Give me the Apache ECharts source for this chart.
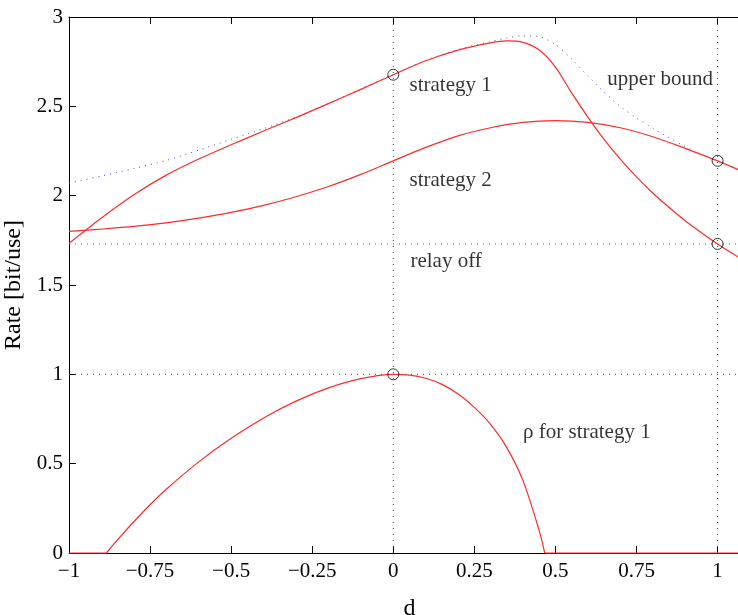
<!DOCTYPE html>
<html>
<head>
<meta charset="utf-8">
<script src="https://cdn.jsdelivr.net/npm/echarts@6/dist/echarts.min.js"></script>
<style>
html, body { margin: 0; padding: 0; background: #fff; }
#chart { width: 738px; height: 615px; }
</style>
</head>
<body>
<div id="chart"></div>
<script>
// strategy 1 rate
var s1X = [-1, -0.9, -0.8, -0.7, -0.6, -0.5, -0.4, -0.3, -0.2, -0.1, 0, 0.1, 0.2, 0.3, 0.35, 0.4, 0.45,
  0.5, 0.55, 0.6, 0.65, 0.7, 0.75, 0.8, 0.85, 0.9, 0.95, 1, 1.065];
var s1Y = [1.733, 1.875, 2.005, 2.115, 2.205, 2.285, 2.362, 2.437, 2.515, 2.595, 2.677, 2.755, 2.815, 2.855, 2.866, 2.858, 2.815,
  2.72, 2.575, 2.44, 2.315, 2.205, 2.105, 2.015, 1.935, 1.86, 1.793, 1.73, 1.655];

// strategy 2 rate
var s2X = [-1, -0.9, -0.8, -0.7, -0.6, -0.5, -0.4, -0.3, -0.2, -0.1, 0, 0.1, 0.2, 0.3, 0.4, 0.5, 0.6, 0.7, 0.8, 0.9, 1, 1.065];
var s2Y = [1.80, 1.813, 1.828, 1.848, 1.874, 1.906, 1.946, 1.994, 2.051, 2.119, 2.195, 2.27, 2.335, 2.38, 2.41, 2.42, 2.41, 2.38, 2.33, 2.265, 2.195, 2.145];

// upper bound
var ubX = [-1, -0.9, -0.8, -0.7, -0.6, -0.5, -0.4, -0.3, -0.2, -0.1, 0, 0.1, 0.2, 0.3, 0.35, 0.4, 0.45,
  0.5, 0.55, 0.6, 0.65, 0.7, 0.75, 0.8, 0.85, 0.9, 0.93];
var ubY = [2.07, 2.11, 2.152, 2.197, 2.255, 2.315, 2.375, 2.44, 2.517, 2.597, 2.679, 2.757, 2.818, 2.862, 2.882, 2.895, 2.89,
  2.845, 2.765, 2.67, 2.58, 2.50, 2.435, 2.378, 2.325, 2.275, 2.248];

// rho for strategy 1
var rhoX = [-0.885, -0.85, -0.8, -0.75, -0.7, -0.6, -0.5, -0.4, -0.3, -0.2, -0.1, 0, 0.05, 0.1, 0.15, 0.2, 0.25, 0.3, 0.35, 0.4, 0.45, 0.467];
var rhoY = [0, 0.075, 0.175, 0.27, 0.357, 0.51, 0.642, 0.756, 0.85, 0.924, 0.976, 1, 0.996, 0.978, 0.944, 0.89, 0.815, 0.72, 0.59, 0.405, 0.125, 0];
var rhoZeroLeft = [-1, -0.885];
var rhoZeroRight = [0.467, 1.1];

// reference lines and circled points
var relayOff = 1.73;
var refLevels = [1];
var refVerticals = [0, 1];
var markX = [0, 0, 1, 1];
var markY = [2.677, 1, 2.195, 1.73];

// text notes
var noteText = ['strategy 1', 'upper bound', 'strategy 2', 'relay off', 'ρ for strategy 1'];
var noteX = [0.05, 0.66, 0.05, 0.053, 0.40];
var noteY = [2.618, 2.648, 2.087, 1.632, 0.675];

var xMin = -1, xMax = 1.1;

function zip(xs, ys) {
  return xs.map(function (x, i) { return [x, ys[i]]; });
}

var FONT = 'Liberation Serif';
var RED = '#ff2a2a';
var BLUE = '#4b4bd0';

var series = [];

refVerticals.forEach(function (v) {
  series.push({
    type: 'line', data: [[v, 0], [v, 3]], symbol: 'none', silent: true,
    lineStyle: { color: '#444', width: 1, type: [1, 5] }
  });
});
refLevels.forEach(function (v) {
  series.push({
    type: 'line', data: [[xMin, v], [xMax, v]], symbol: 'none', silent: true,
    lineStyle: { color: '#444', width: 1, type: [1, 5] }
  });
});
series.push({
  type: 'line', data: [[xMin, relayOff], [xMax, relayOff]], symbol: 'none', silent: true,
  lineStyle: { color: BLUE, width: 1, type: [1, 5] }
});
series.push({
  type: 'line', data: zip(ubX, ubY), symbol: 'none', smooth: 0.3,
  lineStyle: { color: BLUE, width: 1, type: [1, 5] }
});
series.push({
  type: 'line', data: zip(s1X, s1Y), symbol: 'none', smooth: 0.3,
  lineStyle: { color: RED, width: 1.2 }
});
series.push({
  type: 'line', data: zip(s2X, s2Y), symbol: 'none', smooth: 0.3,
  lineStyle: { color: RED, width: 1.2 }
});
series.push({
  type: 'line', data: zip(rhoX, rhoY), symbol: 'none', smooth: 0.3, clip: false,
  lineStyle: { color: RED, width: 1.2 }
});
[rhoZeroLeft, rhoZeroRight].forEach(function (seg) {
  series.push({
    type: 'line', data: [[seg[0], 0], [seg[1], 0]], symbol: 'none', clip: false,
    lineStyle: { color: RED, width: 1.2 }
  });
});
series.push({
  type: 'scatter', data: zip(markX, markY), symbol: 'circle', symbolSize: 11, z: 5,
  itemStyle: { color: 'rgba(0,0,0,0)', borderColor: '#000', borderWidth: 1 }
});
series.push({
  type: 'scatter', symbolSize: 0, silent: true, z: 6,
  data: noteText.map(function (t, i) { return { value: [noteX[i], noteY[i]], name: t }; }),
  label: {
    show: true, position: 'right', distance: 0,
    formatter: function (p) { return p.name; },
    fontFamily: FONT, fontSize: 21, color: '#000'
  }
});

var chart = echarts.init(document.getElementById('chart'));
chart.setOption({
  animation: false,
  backgroundColor: '#fff',
  grid: { left: 69, top: 17, width: 681, height: 536, outerBoundsMode: 'none', containLabel: false },
  xAxis: [{
    type: 'value', min: xMin, max: xMax, interval: 0.25,
    name: 'd', nameLocation: 'middle', nameGap: 44,
    nameTextStyle: { fontFamily: FONT, fontSize: 24, color: '#000' },
    axisLine: { onZero: false, lineStyle: { color: '#000', width: 1 } },
    axisTick: { inside: true, length: 7, lineStyle: { color: '#000' } },
    splitLine: { show: false },
    axisLabel: {
      margin: 8, fontFamily: FONT, fontSize: 21, color: '#000',
      formatter: function (v) {
        if (Math.abs(v * 4 - Math.round(v * 4)) > 1e-6 || v > 1) return '';
        return String(v).replace('-', '\u2212');
      }
    }
  }, {
    type: 'value', position: 'top', min: xMin, max: xMax, interval: 0.25,
    axisLine: { onZero: false, lineStyle: { color: '#000', width: 1 } },
    axisTick: { inside: true, length: 7, lineStyle: { color: '#000' } },
    axisLabel: { show: false },
    splitLine: { show: false }
  }],
  yAxis: {
    type: 'value', min: 0, max: 3, interval: 0.5,
    name: 'Rate [bit/use]', nameLocation: 'middle', nameGap: 36,
    nameTextStyle: { fontFamily: FONT, fontSize: 24, color: '#000' },
    axisLine: { show: true, onZero: false, lineStyle: { color: '#000', width: 1 } },
    axisTick: { show: true, inside: true, length: 7, lineStyle: { color: '#000' } },
    splitLine: { show: false },
    axisLabel: { margin: 6, fontFamily: FONT, fontSize: 21, color: '#000' }
  },
  series: series
});
</script>
</body>
</html>
